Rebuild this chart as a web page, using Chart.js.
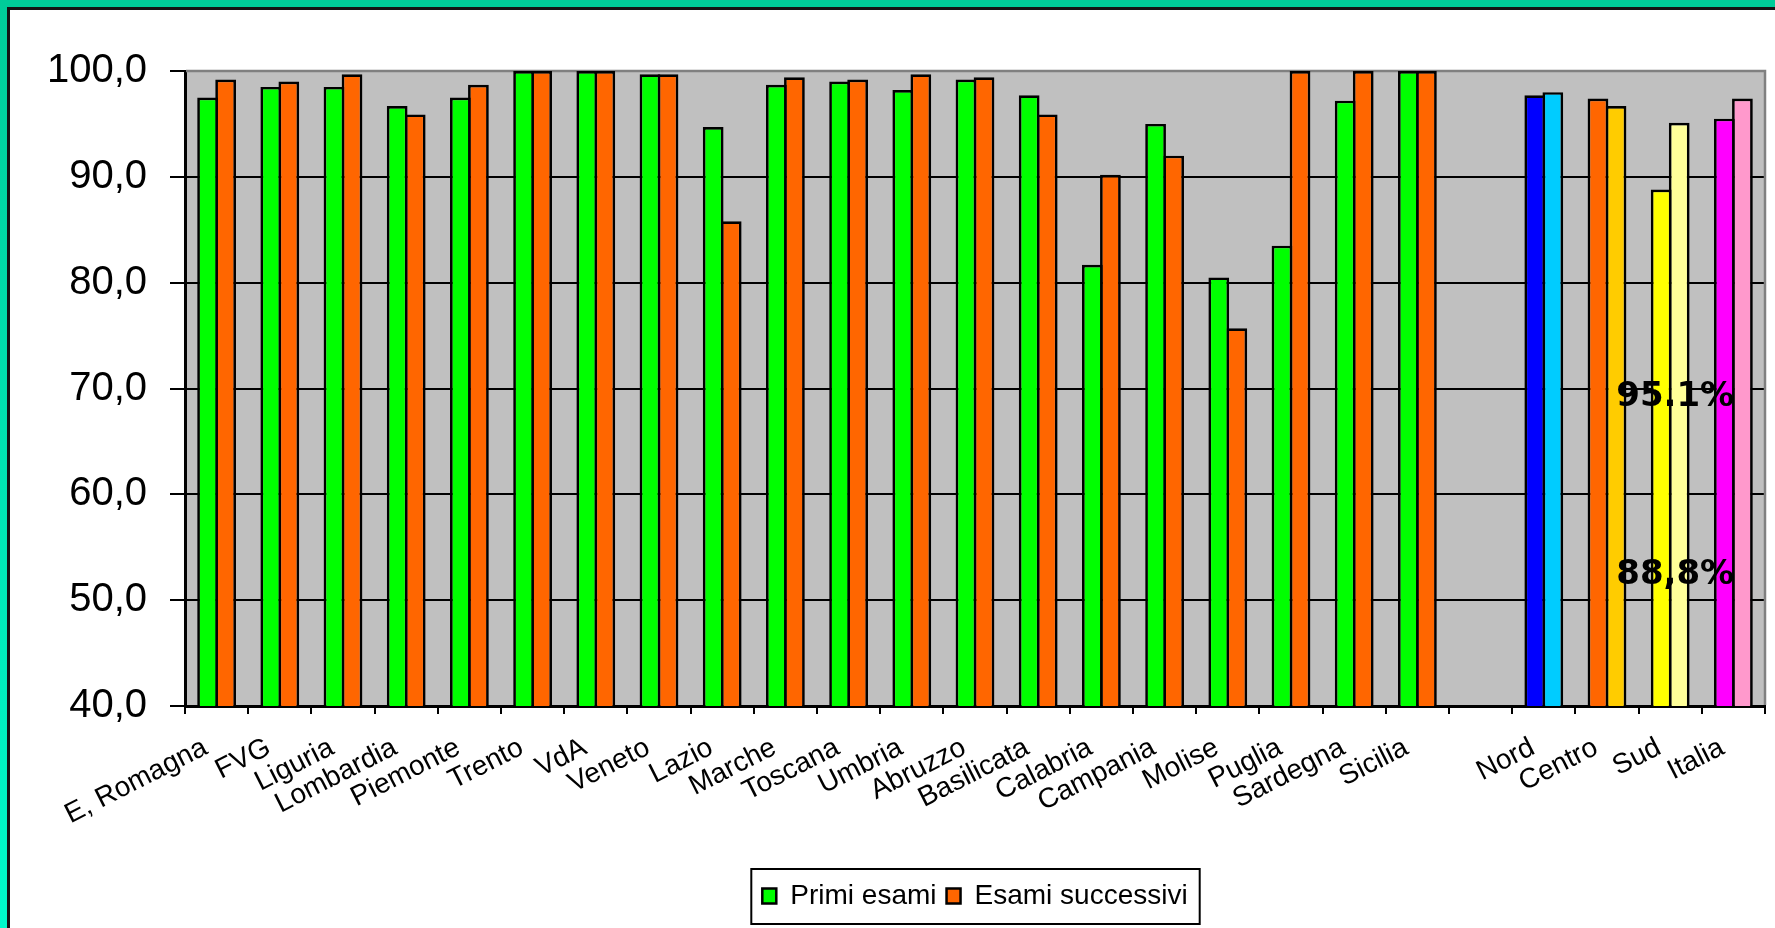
<!DOCTYPE html>
<html>
<head>
<meta charset="utf-8">
<title>Primi esami / Esami successivi</title>
<script src="https://cdn.jsdelivr.net/npm/chart.js@4/dist/chart.umd.min.js"></script>
<style>
  html, body { margin: 0; padding: 0; background: #ffffff; overflow: hidden; }
  canvas { display: block; }
</style>
</head>
<body>
<canvas id="chart" width="1775" height="928"></canvas>
<script>
// Regions, then a spacer slot, then the macro-areas and the national total
const categories = [
  'E, Romagna', 'FVG', 'Liguria', 'Lombardia', 'Piemonte', 'Trento', 'VdA', 'Veneto',
  'Lazio', 'Marche', 'Toscana', 'Umbria', 'Abruzzo', 'Basilicata', 'Calabria',
  'Campania', 'Molise', 'Puglia', 'Sardegna', 'Sicilia',
  '',
  'Nord', 'Centro', 'Sud', 'Italia'
];

const seriesNames = ['Primi esami', 'Esami successivi'];

const primiEsami = [
  97.5, 98.5, 98.5, 96.7, 97.5, 100, 100, 99.7,
  94.7, 98.7, 99.0, 98.2, 99.2, 97.7, 81.7,
  95.0, 80.5, 83.5, 97.2, 100,
  null,
  97.7, 97.4, 88.8, 95.5
];

const esamiSuccessivi = [
  99.2, 99.0, 99.7, 95.9, 98.7, 100, 100, 99.7,
  85.8, 99.4, 99.2, 99.7, 99.4, 95.9, 90.2,
  92.0, 75.7, 100, 100, 100,
  null,
  98.0, 96.7, 95.1, 97.4
];

const yTickValues = [40, 50, 60, 70, 80, 90, 100];

// Percentages written over the Sud bars
const sudLabels = ['95.1%', '88,8%'];
const sudLabelAt = [69.15, 52.4];   // vertical placement on the value axis

// Fill colours
const REGION_A = '#00FF00';
const REGION_B = '#FF6600';
const areaColorsA = { Nord: '#0000FF', Centro: '#FF6600', Sud: '#FFFF00', Italia: '#FF00FF' };
const areaColorsB = { Nord: '#00CCFF', Centro: '#FFCC00', Sud: '#FFFF99', Italia: '#FF99CC' };
const colorsA = categories.map(c => areaColorsA[c] || REGION_A);
const colorsB = categories.map(c => areaColorsB[c] || REGION_B);

const FONT = "'Liberation Sans', Arial, Helvetica, sans-serif";
const BAR_EDGE = 2.7;

const framePlugin = {
  id: 'frame',
  beforeDraw(chart) {
    const { ctx, width, height, chartArea: a } = chart;
    ctx.save();
    ctx.fillStyle = '#ffffff';
    ctx.fillRect(0, 0, width, height);
    // teal frame on top and left
    ctx.fillStyle = '#00CC99';
    ctx.fillRect(0, 0, width, 7);
    const g = ctx.createLinearGradient(0, 0, 0, height);
    g.addColorStop(0, '#00CC99');
    g.addColorStop(1, '#00FACB');
    ctx.fillStyle = g;
    ctx.fillRect(0, 0, 7, height);
    ctx.fillStyle = '#141414';
    ctx.fillRect(7, 7, width - 7, 3);
    ctx.fillRect(7, 7, 3, height - 7);
    // plot area
    ctx.fillStyle = '#C0C0C0';
    ctx.fillRect(a.left, a.top, a.right - a.left, a.bottom - a.top);
    ctx.restore();
  },
  beforeDatasetsDraw(chart) {
    const { ctx, chartArea: a } = chart;
    ctx.save();
    ctx.strokeStyle = '#808080';
    ctx.lineWidth = 2.5;
    ctx.beginPath();
    ctx.moveTo(a.left + 1, a.top);
    ctx.lineTo(a.right, a.top);
    ctx.lineTo(a.right, a.bottom - 1);
    ctx.stroke();
    ctx.restore();
  },
  afterDraw(chart) {
    const { ctx } = chart;
    ctx.save();
    // box around the legend
    const boxes = chart.legend && chart.legend.legendHitBoxes;
    if (boxes && boxes.length) {
      const first = boxes[0];
      const last = boxes[boxes.length - 1];
      const mid = first.top + first.height / 2;
      ctx.strokeStyle = '#000000';
      ctx.lineWidth = 2;
      ctx.strokeRect(first.left - 11, mid - 27, last.left + last.width + 12 - (first.left - 11), 55);
    }
    // Sud percentages
    const x = chart.scales.x.getPixelForValue(categories.indexOf('Sud')) + 5;
    ctx.fillStyle = '#000000';
    ctx.font = "bold 34px 'DejaVu Sans', Verdana, sans-serif";
    ctx.textAlign = 'center';
    ctx.textBaseline = 'middle';
    sudLabels.forEach((t, i) => {
      ctx.fillText(t, x, chart.scales.y.getPixelForValue(sudLabelAt[i]));
    });
    ctx.restore();
  }
};

// The two bars of a group share their common edge line
const barStyle = {
  borderColor: '#000000',
  borderWidth: BAR_EDGE,
  borderSkipped: 'start',
  inflateAmount: 0,
  categoryPercentage: 0.571,
  barPercentage: 1.15
};

new Chart(document.getElementById('chart'), {
  type: 'bar',
  data: {
    labels: categories,
    datasets: [
      Object.assign({ label: seriesNames[0], data: primiEsami, backgroundColor: colorsA }, barStyle),
      Object.assign({ label: seriesNames[1], data: esamiSuccessivi, backgroundColor: colorsB }, barStyle)
    ]
  },
  options: {
    responsive: false,
    animation: false,
    events: [],
    layout: { padding: { top: 71, right: 10, left: 0, bottom: 8 } },
    scales: {
      x: {
        grid: { display: true, drawOnChartArea: false, drawTicks: true, tickLength: 8, color: '#000000', lineWidth: 2, offset: true },
        border: { display: true, color: '#000000', width: 3 },
        ticks: {
          autoSkip: false,
          minRotation: 27,
          maxRotation: 27,
          padding: 17,
          labelOffset: -11,
          color: '#000000',
          font: { family: FONT, size: 28 }
        },
        afterFit(scale) { scale.height = 166; }
      },
      y: {
        min: 40,
        max: 100,
        afterBuildTicks(scale) { scale.ticks = yTickValues.map(v => ({ value: v })); },
        grid: { display: true, drawOnChartArea: true, drawTicks: true, tickLength: 15, color: '#000000', lineWidth: 2 },
        border: { display: true, color: '#000000', width: 3 },
        ticks: {
          padding: 23,
          color: '#000000',
          font: { family: FONT, size: 40 },
          callback: v => v.toFixed(1).replace('.', ',')
        },
        afterFit(scale) { scale.width = 185; }
      }
    },
    plugins: {
      legend: {
        display: true,
        position: 'bottom',
        fullSize: false,
        labels: {
          boxWidth: 14,
          boxHeight: 15,
          padding: 10,
          color: '#000000',
          font: { family: FONT, size: 28 },
          generateLabels: chart => chart.data.datasets.map((ds, i) => ({
            text: ds.label,
            fillStyle: i === 0 ? REGION_A : REGION_B,
            strokeStyle: '#000000',
            lineWidth: 2.5,
            hidden: false,
            datasetIndex: i
          }))
        }
      },
      tooltip: { enabled: false },
      title: { display: false }
    }
  },
  plugins: [framePlugin]
});
</script>
</body>
</html>
